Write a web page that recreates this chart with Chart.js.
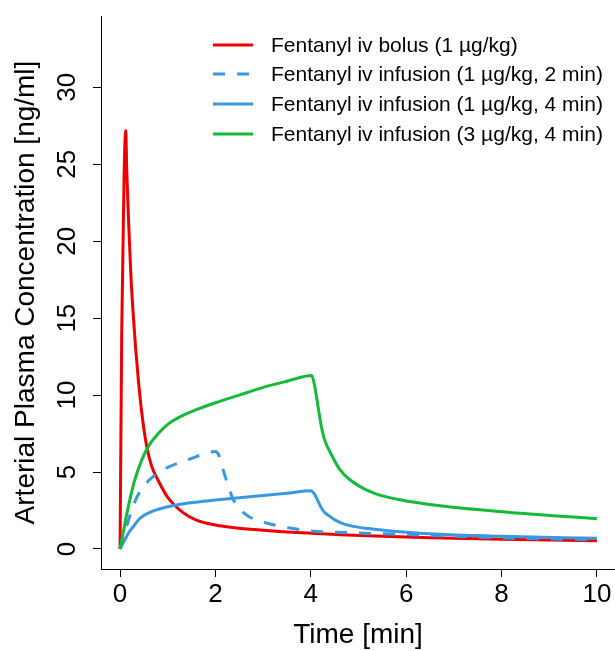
<!DOCTYPE html>
<html>
<head>
<meta charset="utf-8">
<script src="https://cdn.jsdelivr.net/npm/chart.js@4.4.1/dist/chart.umd.min.js"></script>
<style>
  body { margin: 0; background: #fff; }
  #wrap { position: relative; width: 615px; height: 651px; }
  #legend {
    position: absolute; left: 213px; top: 30px;
    font: 21px "Liberation Sans", Arial, sans-serif; color: #000;
  }
  .row { display: flex; align-items: center; height: 29.6px; white-space: nowrap; }
  .row svg { margin-right: 18px; }
</style>
</head>
<body>
<div id="wrap">
  <canvas id="chart" width="615" height="651"></canvas>
  <div id="legend"></div>
</div>
<script>
// time [min] and concentration [ng/ml]
const bolusT = [0, 0.035, 0.084, 0.119, 0.14, 0.17, 0.2, 0.23, 0.27, 0.325, 0.384, 0.455, 0.56, 0.66, 0.8, 1.0, 1.32, 1.6, 2.0, 2.4, 3.0, 3.8, 4.6, 5.5, 6.5, 8, 10];
const bolusC = [0, 14.2, 24.2, 27.17, 24.6, 22.0, 19.7, 17.6, 15.5, 13.1, 10.95, 8.85, 6.64, 5.4, 4.45, 3.35, 2.36, 1.88, 1.56, 1.38, 1.22, 1.05, 0.93, 0.82, 0.73, 0.63, 0.54];

const inf2T = [0, 0.1, 0.2, 0.3, 0.42, 0.6, 0.8, 1.0, 1.47, 2.0, 2.07, 2.17, 2.28, 2.36, 2.47, 2.62, 2.8, 3.07, 3.56, 4.0, 4.6, 5.0, 6.0, 6.71, 8, 10];
const inf2C = [0, 1.1, 2.1, 3.0, 3.75, 4.45, 4.95, 5.3, 5.85, 6.33, 6.1, 5.05, 4.0, 3.3, 2.75, 2.28, 1.95, 1.69, 1.36, 1.17, 1.08, 1.04, 0.94, 0.86, 0.72, 0.6];

const inf4T = [0, 0.1, 0.2, 0.3, 0.42, 0.6, 0.8, 1.0, 1.47, 2.0, 2.5, 3.0, 3.5, 4.0, 4.08, 4.13, 4.18, 4.235, 4.3, 4.42, 4.61, 4.82, 5.2, 5.87, 6.71, 8, 10];
const inf4C = [0, 0.6, 1.15, 1.55, 2.0, 2.35, 2.58, 2.75, 3.0, 3.18, 3.33, 3.48, 3.62, 3.78, 3.55, 3.25, 2.92, 2.6, 2.35, 2.07, 1.73, 1.52, 1.33, 1.12, 0.95, 0.82, 0.7];

const inf4hT = [0, 0.08, 0.17, 0.3, 0.45, 0.6, 0.8, 1.0, 1.33, 1.6, 2.0, 2.5, 3.0, 3.5, 4.02, 4.08, 4.13, 4.18, 4.235, 4.3, 4.42, 4.61, 4.82, 5.31, 5.87, 6.71, 8, 9, 10];
const inf4hC = [0, 1.3, 2.7, 4.4, 5.75, 6.7, 7.5, 8.1, 8.7, 9.05, 9.5, 10.0, 10.5, 10.9, 11.27, 10.6, 9.7, 8.7, 7.75, 7.0, 6.2, 5.15, 4.5, 3.64, 3.2, 2.81, 2.42, 2.18, 1.97];

const labels = [
  "Fentanyl iv bolus (1 µg/kg)",
  "Fentanyl iv infusion (1 µg/kg, 2 min)",
  "Fentanyl iv infusion (1 µg/kg, 4 min)",
  "Fentanyl iv infusion (3 µg/kg, 4 min)",
];
const xTicks = [0, 2, 4, 6, 8, 10];
const yTicks = [0, 5, 10, 15, 20, 25, 30];

const RED = "#ee0000", BLUE = "#3a98e0", GREEN = "#13bb38";
const FONT = '"Liberation Sans", Arial, sans-serif';

function pts(t, c) {
  return t.map((x, i) => ({ x: x, y: c[i] }));
}

function line(label, data, color, dash, order) {
  return {
    label, data, order,
    borderColor: color,
    borderWidth: 3,
    borderDash: dash,
    pointRadius: 0,
    fill: false,
    cubicInterpolationMode: "monotone",
  };
}

// R style y labels: parallel to the axis
const yLabels = {
  id: "yLabels",
  afterDraw(chart) {
    const { ctx } = chart;
    const y = chart.scales.y;
    ctx.save();
    ctx.font = "26px " + FONT;
    ctx.fillStyle = "#000";
    ctx.textAlign = "center";
    ctx.textBaseline = "middle";
    y.ticks.forEach(t => {
      ctx.save();
      ctx.translate(68, y.getPixelForValue(t.value));
      ctx.rotate(-Math.PI / 2);
      ctx.fillText(String(t.value), 0, 0);
      ctx.restore();
    });
    ctx.restore();
  },
};

const chart = new Chart(document.getElementById("chart"), {
  type: "line",
  data: {
    datasets: [
      line(labels[0], pts(bolusT, bolusC), RED, [], 4),
      line(labels[1], pts(inf2T, inf2C), BLUE, [12, 12], 3),
      line(labels[2], pts(inf4T, inf4C), BLUE, [], 2),
      line(labels[3], pts(inf4hT, inf4hC), GREEN, [], 1),
    ],
  },
  options: {
    responsive: false,
    devicePixelRatio: 1,
    animation: false,
    layout: { padding: { top: 16, left: 0, right: 0, bottom: 0 } },
    plugins: { legend: { display: false }, tooltip: { enabled: false } },
    scales: {
      x: {
        type: "linear",
        min: -0.4,
        max: 10.38,
        afterBuildTicks: s => { s.ticks = xTicks.map(v => ({ value: v })); },
        afterFit: s => { s.height = 82; },
        grid: { drawOnChartArea: false, color: "#000", tickLength: 8 },
        border: { display: true, color: "#000", width: 1 },
        ticks: { color: "#000", font: { family: FONT, size: 26 }, padding: 2, maxRotation: 0 },
        title: {
          display: true, text: "Time [min]", color: "#000",
          font: { family: FONT, size: 28, lineHeight: 1 }, padding: { top: 0, bottom: 2 },
        },
      },
      y: {
        type: "linear",
        min: -1.3,
        max: 34.63,
        afterBuildTicks: s => { s.ticks = yTicks.map(v => ({ value: v })); },
        afterFit: s => { s.width = 101; },
        grid: { drawOnChartArea: false, color: "#000", tickLength: 8 },
        border: { display: true, color: "#000", width: 1 },
        ticks: { display: false },
        title: {
          display: true, text: "Arterial Plasma Concentration [ng/ml]", color: "#000",
          font: { family: FONT, size: 28, lineHeight: 1 }, padding: { top: 12, bottom: 0 },
        },
      },
    },
  },
  plugins: [yLabels],
});

// legend built from the datasets
const legend = document.getElementById("legend");
chart.data.datasets.forEach(ds => {
  const row = document.createElement("div");
  row.className = "row";
  const dash = ds.borderDash.length ? ds.borderDash.join(" ") : "none";
  row.innerHTML =
    '<svg width="40" height="6"><line x1="0" y1="3" x2="40" y2="3" stroke="' + ds.borderColor +
    '" stroke-width="3" stroke-dasharray="' + dash + '"/></svg>' +
    "<span>" + ds.label + "</span>";
  legend.appendChild(row);
});
</script>
</body>
</html>
